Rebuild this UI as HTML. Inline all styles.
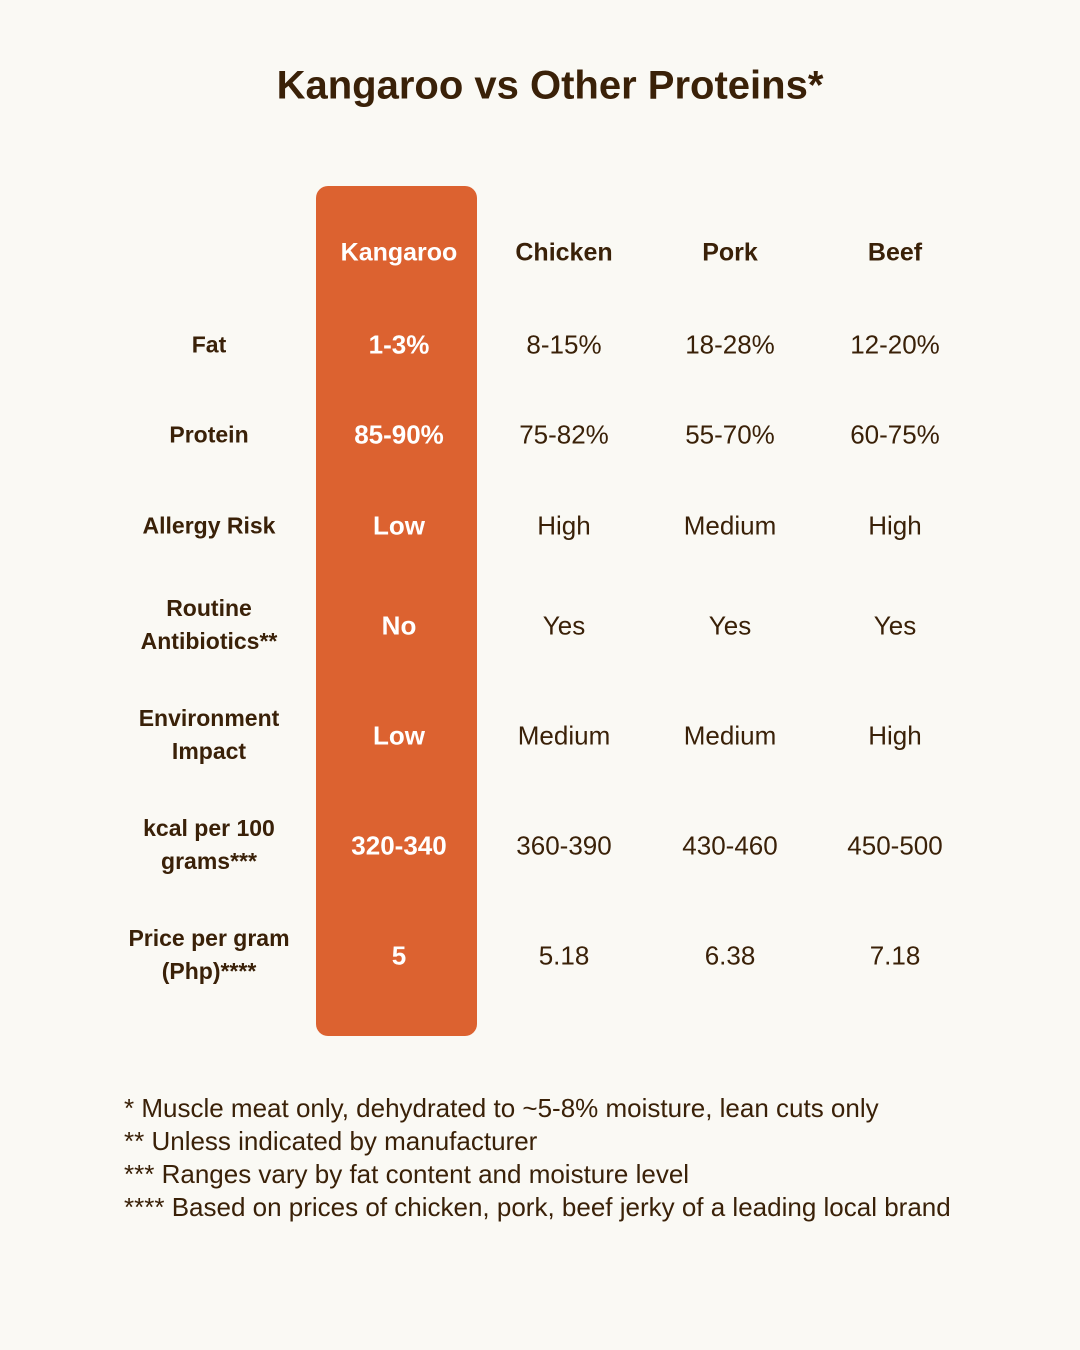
<!DOCTYPE html>
<html><head><meta charset="utf-8"><style>
body{margin:0;width:1080px;height:1350px;background:#FAF9F4;font-family:"Liberation Sans",sans-serif;color:#3A2108;position:relative;overflow:hidden}
.t{position:absolute;transform:translate(-50%,-50%);text-align:center;white-space:nowrap;line-height:33px}
.b{font-weight:bold}
.w{color:#fff;font-weight:bold}
.v{font-size:26px}
.l{font-size:23px;font-weight:bold}
.f{position:absolute;left:124px;font-size:26px;white-space:nowrap}
</style></head><body>
<div class="t b" style="left:550px;top:86px;font-size:40px">Kangaroo vs Other Proteins*</div>
<div style="position:absolute;left:316px;top:186px;width:161px;height:850px;background:#DC6230;border-radius:12px"></div>

<div class="t w v" style="left:399px;top:253px;font-size:25px">Kangaroo</div>
<div class="t b v" style="left:564px;top:253px;font-size:25px">Chicken</div>
<div class="t b v" style="left:730px;top:253px;font-size:25px">Pork</div>
<div class="t b v" style="left:895px;top:253px;font-size:25px">Beef</div>

<div class="t l" style="left:209px;top:345px">Fat</div>
<div class="t w v" style="left:399px;top:345px">1-3%</div>
<div class="t v" style="left:564px;top:345px">8-15%</div>
<div class="t v" style="left:730px;top:345px">18-28%</div>
<div class="t v" style="left:895px;top:345px">12-20%</div>

<div class="t l" style="left:209px;top:435px">Protein</div>
<div class="t w v" style="left:399px;top:435px">85-90%</div>
<div class="t v" style="left:564px;top:435px">75-82%</div>
<div class="t v" style="left:730px;top:435px">55-70%</div>
<div class="t v" style="left:895px;top:435px">60-75%</div>

<div class="t l" style="left:209px;top:526px">Allergy Risk</div>
<div class="t w v" style="left:399px;top:526px">Low</div>
<div class="t v" style="left:564px;top:526px">High</div>
<div class="t v" style="left:730px;top:526px">Medium</div>
<div class="t v" style="left:895px;top:526px">High</div>

<div class="t l" style="left:209px;top:625px">Routine<br>Antibiotics**</div>
<div class="t w v" style="left:399px;top:626px">No</div>
<div class="t v" style="left:564px;top:626px">Yes</div>
<div class="t v" style="left:730px;top:626px">Yes</div>
<div class="t v" style="left:895px;top:626px">Yes</div>

<div class="t l" style="left:209px;top:735px">Environment<br>Impact</div>
<div class="t w v" style="left:399px;top:736px">Low</div>
<div class="t v" style="left:564px;top:736px">Medium</div>
<div class="t v" style="left:730px;top:736px">Medium</div>
<div class="t v" style="left:895px;top:736px">High</div>

<div class="t l" style="left:209px;top:845px">kcal per 100<br>grams***</div>
<div class="t w v" style="left:399px;top:846px">320-340</div>
<div class="t v" style="left:564px;top:846px">360-390</div>
<div class="t v" style="left:730px;top:846px">430-460</div>
<div class="t v" style="left:895px;top:846px">450-500</div>

<div class="t l" style="left:209px;top:955px">Price per gram<br>(Php)****</div>
<div class="t w v" style="left:399px;top:956px">5</div>
<div class="t v" style="left:564px;top:956px">5.18</div>
<div class="t v" style="left:730px;top:956px">6.38</div>
<div class="t v" style="left:895px;top:956px">7.18</div>

<div class="f" style="top:1093px">* Muscle meat only, dehydrated to ~5-8% moisture, lean cuts only</div>
<div class="f" style="top:1126px">** Unless indicated by manufacturer</div>
<div class="f" style="top:1159px">*** Ranges vary by fat content and moisture level</div>
<div class="f" style="top:1192px">**** Based on prices of chicken, pork, beef jerky of a leading local brand</div>
</body></html>
